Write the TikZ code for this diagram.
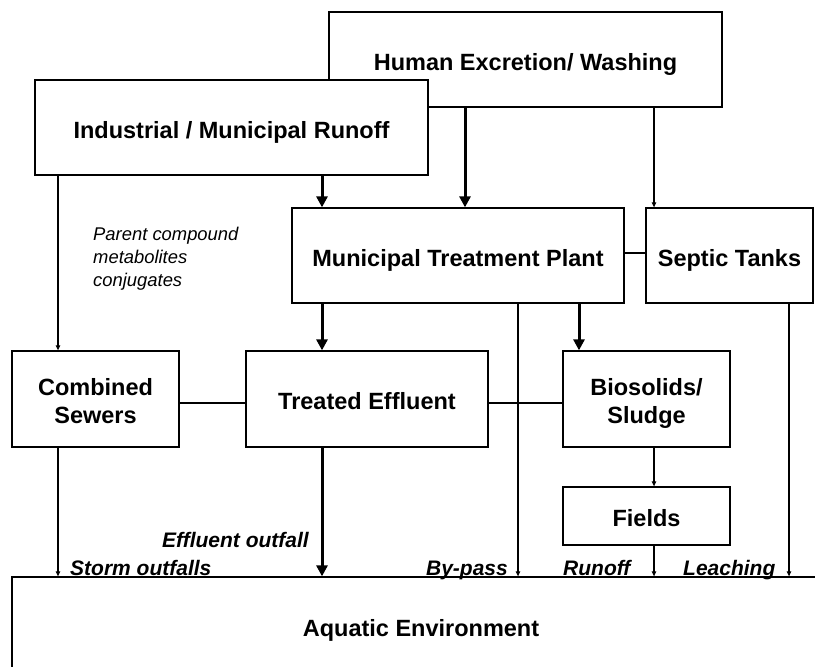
\documentclass[tikz,border=0pt]{standalone}
\usepackage{fontspec}
\setmainfont{Liberation Sans}
\usetikzlibrary{arrows.meta}
\begin{document}
\begin{tikzpicture}[x=1pt,y=-1pt,
  box/.style={draw,line width=1.3pt,fill=white,inner sep=0pt,
    font=\fontsize{23.5}{28}\selectfont\bfseries,align=center},
  one/.style={text height=21pt,text depth=0pt},
  two/.style={text depth=0pt},
  thinarr/.style={line width=1.1pt,-{Triangle[length=5pt,width=4.5pt]}},
  thickarr/.style={line width=3pt,-{Triangle[length=11pt,width=11pt]}},
  link/.style={line width=1.1pt},
  lab/.style={font=\fontsize{21}{24}\selectfont\bfseries\itshape,inner sep=0pt},
  note/.style={font=\fontsize{18.4}{22}\selectfont\itshape,inner sep=0pt}]
\path[use as bounding box,clip] (0,0) rectangle (815,667);

% boxes
\node[box,one,minimum width=393pt,minimum height=95pt] (hum) at (525.5,59.5) {Human Excretion/ Washing};
\node[box,one,minimum width=393pt,minimum height=95pt] (ind) at (231.5,127.5) {Industrial / Municipal Runoff};
\node[box,one,minimum width=332pt,minimum height=95pt] (mtp) at (458,255.5) {Municipal Treatment Plant};
\node[box,one,minimum width=167pt,minimum height=95pt] (sep) at (729.5,255.5) {Septic Tanks};
\node[box,two,minimum width=167pt,minimum height=96pt] (comb) at (95.5,399) {\rule{0pt}{21pt}Combined\\Sewers};
\node[box,one,minimum width=242pt,minimum height=96pt] (te) at (367,399) {Treated Effluent};
\node[box,two,minimum width=167pt,minimum height=96pt] (bio) at (646.5,399) {\rule{0pt}{21pt}Biosolids/\\Sludge};
\node[box,one,minimum width=167pt,minimum height=58pt] (fld) at (646.5,516) {Fields};
\node[box,one,minimum width=818pt,minimum height=97pt] (aq) at (421,625.5) {Aquatic Environment};

% thin arrows
\draw[thinarr] (ind.south -| 58,0) -- (comb.north -| 58,0);
\draw[thinarr] (hum.south -| 654,0) -- (sep.north -| 654,0);
\draw[thinarr] (mtp.south -| 518,0) -- (aq.north -| 518,0);
\draw[thinarr] (sep.south -| 789,0) -- (aq.north -| 789,0);
\draw[thinarr] (comb.south -| 58,0) -- (aq.north -| 58,0);
\draw[thinarr] (bio.south -| 654,0) -- (fld.north -| 654,0);
\draw[thinarr] (fld.south -| 654,0) -- (aq.north -| 654,0);

% thick arrows
\draw[thickarr] (ind.south -| 322,0) -- (mtp.north -| 322,0);
\draw[thickarr] (hum.south -| 465,0) -- (mtp.north -| 465,0);
\draw[thickarr] (mtp.south -| 322,0) -- (te.north -| 322,0);
\draw[thickarr] (mtp.south -| 579,0) -- (bio.north -| 579,0);
\draw[thickarr] (te.south -| 322,0) -- (aq.north -| 322,0);

% plain links
\draw[link] (mtp.east |- 0,253) -- (sep.west |- 0,253);
\draw[link] (comb.east |- 0,403) -- (te.west |- 0,403);
\draw[link] (te.east |- 0,403) -- (bio.west |- 0,403);

% labels
\node[note,anchor=base west] (n1) at (93,240) {Parent compound};
\node[note,anchor=base west] (n2) at (93,263.5) {metabolites};
\node[note,anchor=base west] (n3) at (93,286) {conjugates};
\node[lab,anchor=base east] (eo) at (309,547) {Effluent outfall};
\node[lab,anchor=base west] (so) at (70,575) {Storm outfalls};
\node[lab,anchor=base east] (bp) at (508,575) {By-pass};
\node[lab,anchor=base west] (ro) at (563,575) {Runoff};
\node[lab,anchor=base west] (le) at (683,575) {Leaching};
\end{tikzpicture}
\end{document}
